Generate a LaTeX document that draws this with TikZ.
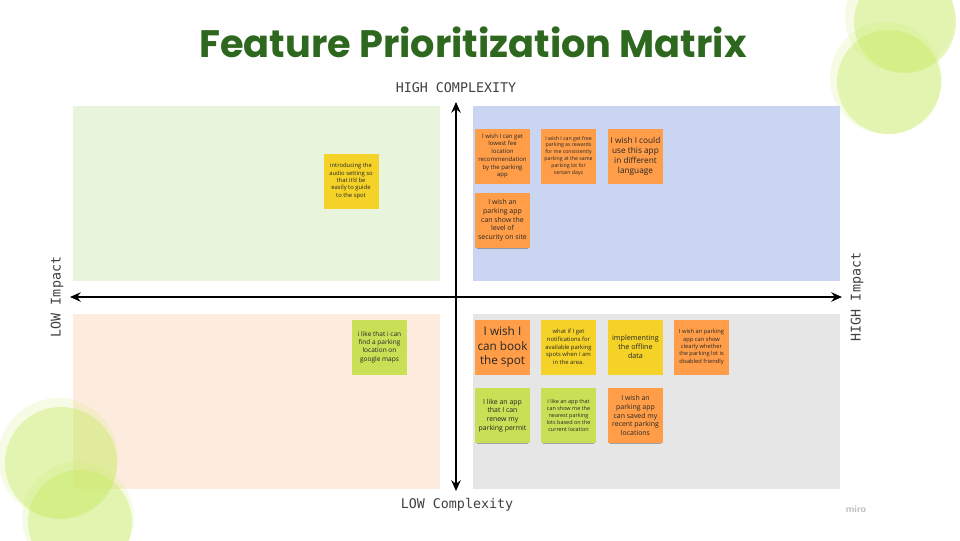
\documentclass[tikz,border=0pt]{standalone}
\usepackage{fontspec}
\setmainfont{Open Sans}
\newfontfamily\titlefont{Poppins}
\newfontfamily\monofont{DejaVu Sans Mono}
\usetikzlibrary{arrows.meta,shadows}
\definecolor{titlegreen}{RGB}{46,104,30}
\definecolor{qgreen}{RGB}{232,245,220}
\definecolor{qblue}{RGB}{201,213,241}
\definecolor{qpeach}{RGB}{253,235,221}
\definecolor{qgrey}{RGB}{230,230,230}
\definecolor{sorange}{RGB}{255,157,72}
\definecolor{syellow}{RGB}{245,210,40}
\definecolor{slime}{RGB}{201,223,86}
\definecolor{blob}{RGB}{200,235,100}
\newcommand{\nf}[2]{\fontsize{#1}{#2}\selectfont}
\tikzset{
  quad/.style={draw=none, minimum width=275.25pt, minimum height=131.25pt, inner sep=0pt},
  sticky/.style={minimum width=41.25pt, minimum height=41.25pt, inner sep=0pt,
    align=center, text=black!85,
    drop shadow={shadow xshift=0pt, shadow yshift=-2.6pt, opacity=0.38, fill=black!80, shadow scale=0.92}},
  so/.style={sticky, fill=sorange},
  sy/.style={sticky, fill=syellow},
  sl/.style={sticky, fill=slime},
  axis/.style={line width=2pt, {Stealth[length=8pt,width=7pt]}-{Stealth[length=8pt,width=7pt]}},
  axlabel/.style={font=\monofont\fontsize{10}{12}\selectfont, text=black!75, inner sep=0pt},
  bubble/.style={fill=blob, fill opacity=0.42, draw=none},
  bubbleedge/.style={fill=blob, fill opacity=0.16, draw=none}
}
\begin{document}
\begin{tikzpicture}[x=0.75pt,y=-0.75pt]
\useasboundingbox (0,0) rectangle (960,540);
\fill[white] (0,0) rectangle (960,540);
% quadrants
\node[quad, fill=qgreen, anchor=north west] (tl) at (73,106) {};
\node[quad, fill=qblue, anchor=north west] (tr) at (473,106) {};
\node[quad, fill=qpeach, anchor=north west] (bl) at (73,314) {};
\node[quad, fill=qgrey, anchor=north west] (br) at (473,314) {};
% decorative bubbles
\fill[bubbleedge] (900,17) circle (55);
\fill[bubble] (905,22) circle (51);
\fill[bubbleedge] (886,78) circle (56);
\fill[bubble] (889,82) circle (52);
\fill[bubbleedge] (58,458) circle (60);
\fill[bubble] (61,463) circle (56);
\fill[bubbleedge] (78,518) circle (56);
\fill[bubble] (80,522) circle (52);
% title
\node[font=\titlefont\bfseries\fontsize{28.7}{33}\selectfont, text=titlegreen] (title) at (473,42) {Feature Prioritization Matrix};
% axes
\coordinate (xl) at (70,297);
\coordinate (xr) at (842,297);
\coordinate (yt) at (456,102);
\coordinate (yb) at (456,491);
\draw[axis] (xl) -- (xr);
\draw[axis] (yt) -- (yb);
% axis labels
\node[axlabel] (hc) at (456,88) {HIGH COMPLEXITY};
\node[axlabel] (lc) at (457,505) {LOW Complexity};
\node[axlabel, rotate=90] (li) at (57,297) {LOW Impact};
\node[axlabel, rotate=90] (hi) at (857,297) {HIGH Impact};
% top-left
\node[sy, font=\nf{4.4}{5.5}] (n1) at (351,181) {introducing the\\audio setting so\\that it'd be\\easily to guide\\to the spot};
% top-right
\node[so, font=\nf{4.5}{5.8}] (n2) at (502.5,156) {I wish I can get\\lowest fee\\location\\recommendation\\by the parking\\app};
\node[so, font=\nf{3.9}{5.2}] (n3) at (568.5,156) {I wish I can get free\\parking as rewards\\for me consistently\\parking at the same\\parking lot for\\certain days};
\node[so, font=\nf{6.2}{7.5}] (n4) at (635.5,156) {I wish I could\\use this app\\in different\\language};
\node[so, font=\nf{5.2}{6.5}] (n5) at (502.5,220.5) {I wish an\\parking app\\can show the\\level of\\security on site};
% bottom-left
\node[sl, font=\nf{4.9}{6.2}] (n6) at (379.5,347) {i like that i can\\find a parking\\location on\\google maps};
% bottom-right
\node[so, font=\nf{8.8}{11.2}] (n7) at (502.5,347) {I wish I\\can book\\the spot};
\node[sy, font=\nf{4.4}{5.8}] (n8) at (568.5,347) {what if I get\\notifications for\\available parking\\spots when I am\\in the area.};
\node[sy, font=\nf{5.4}{6.8}] (n9) at (635.5,347) {implementing\\the offline\\data};
\node[so, font=\nf{4.3}{5.5}] (n10) at (701.5,347) {I wish an parking\\app can show\\clearly whether\\the parking lot is\\disabled friendly};
\node[sl, font=\nf{5.2}{6.5}] (n11) at (502.5,415.5) {I like an app\\that I can\\renew my\\parking permit};
\node[sl, font=\nf{4.1}{5.3}] (n12) at (568.5,415.5) {I like an app that\\can show me the\\nearest parking\\lots based on the\\current location};
\node[so, font=\nf{5.2}{6.6}] (n13) at (635.5,415.5) {I wish an\\parking app\\can saved my\\recent parking\\locations};
% miro mark
\node[font=\sffamily\bfseries\fontsize{7.5}{9}\selectfont, text=black!25] (miro) at (856,509) {miro};
\end{tikzpicture}
\end{document}
